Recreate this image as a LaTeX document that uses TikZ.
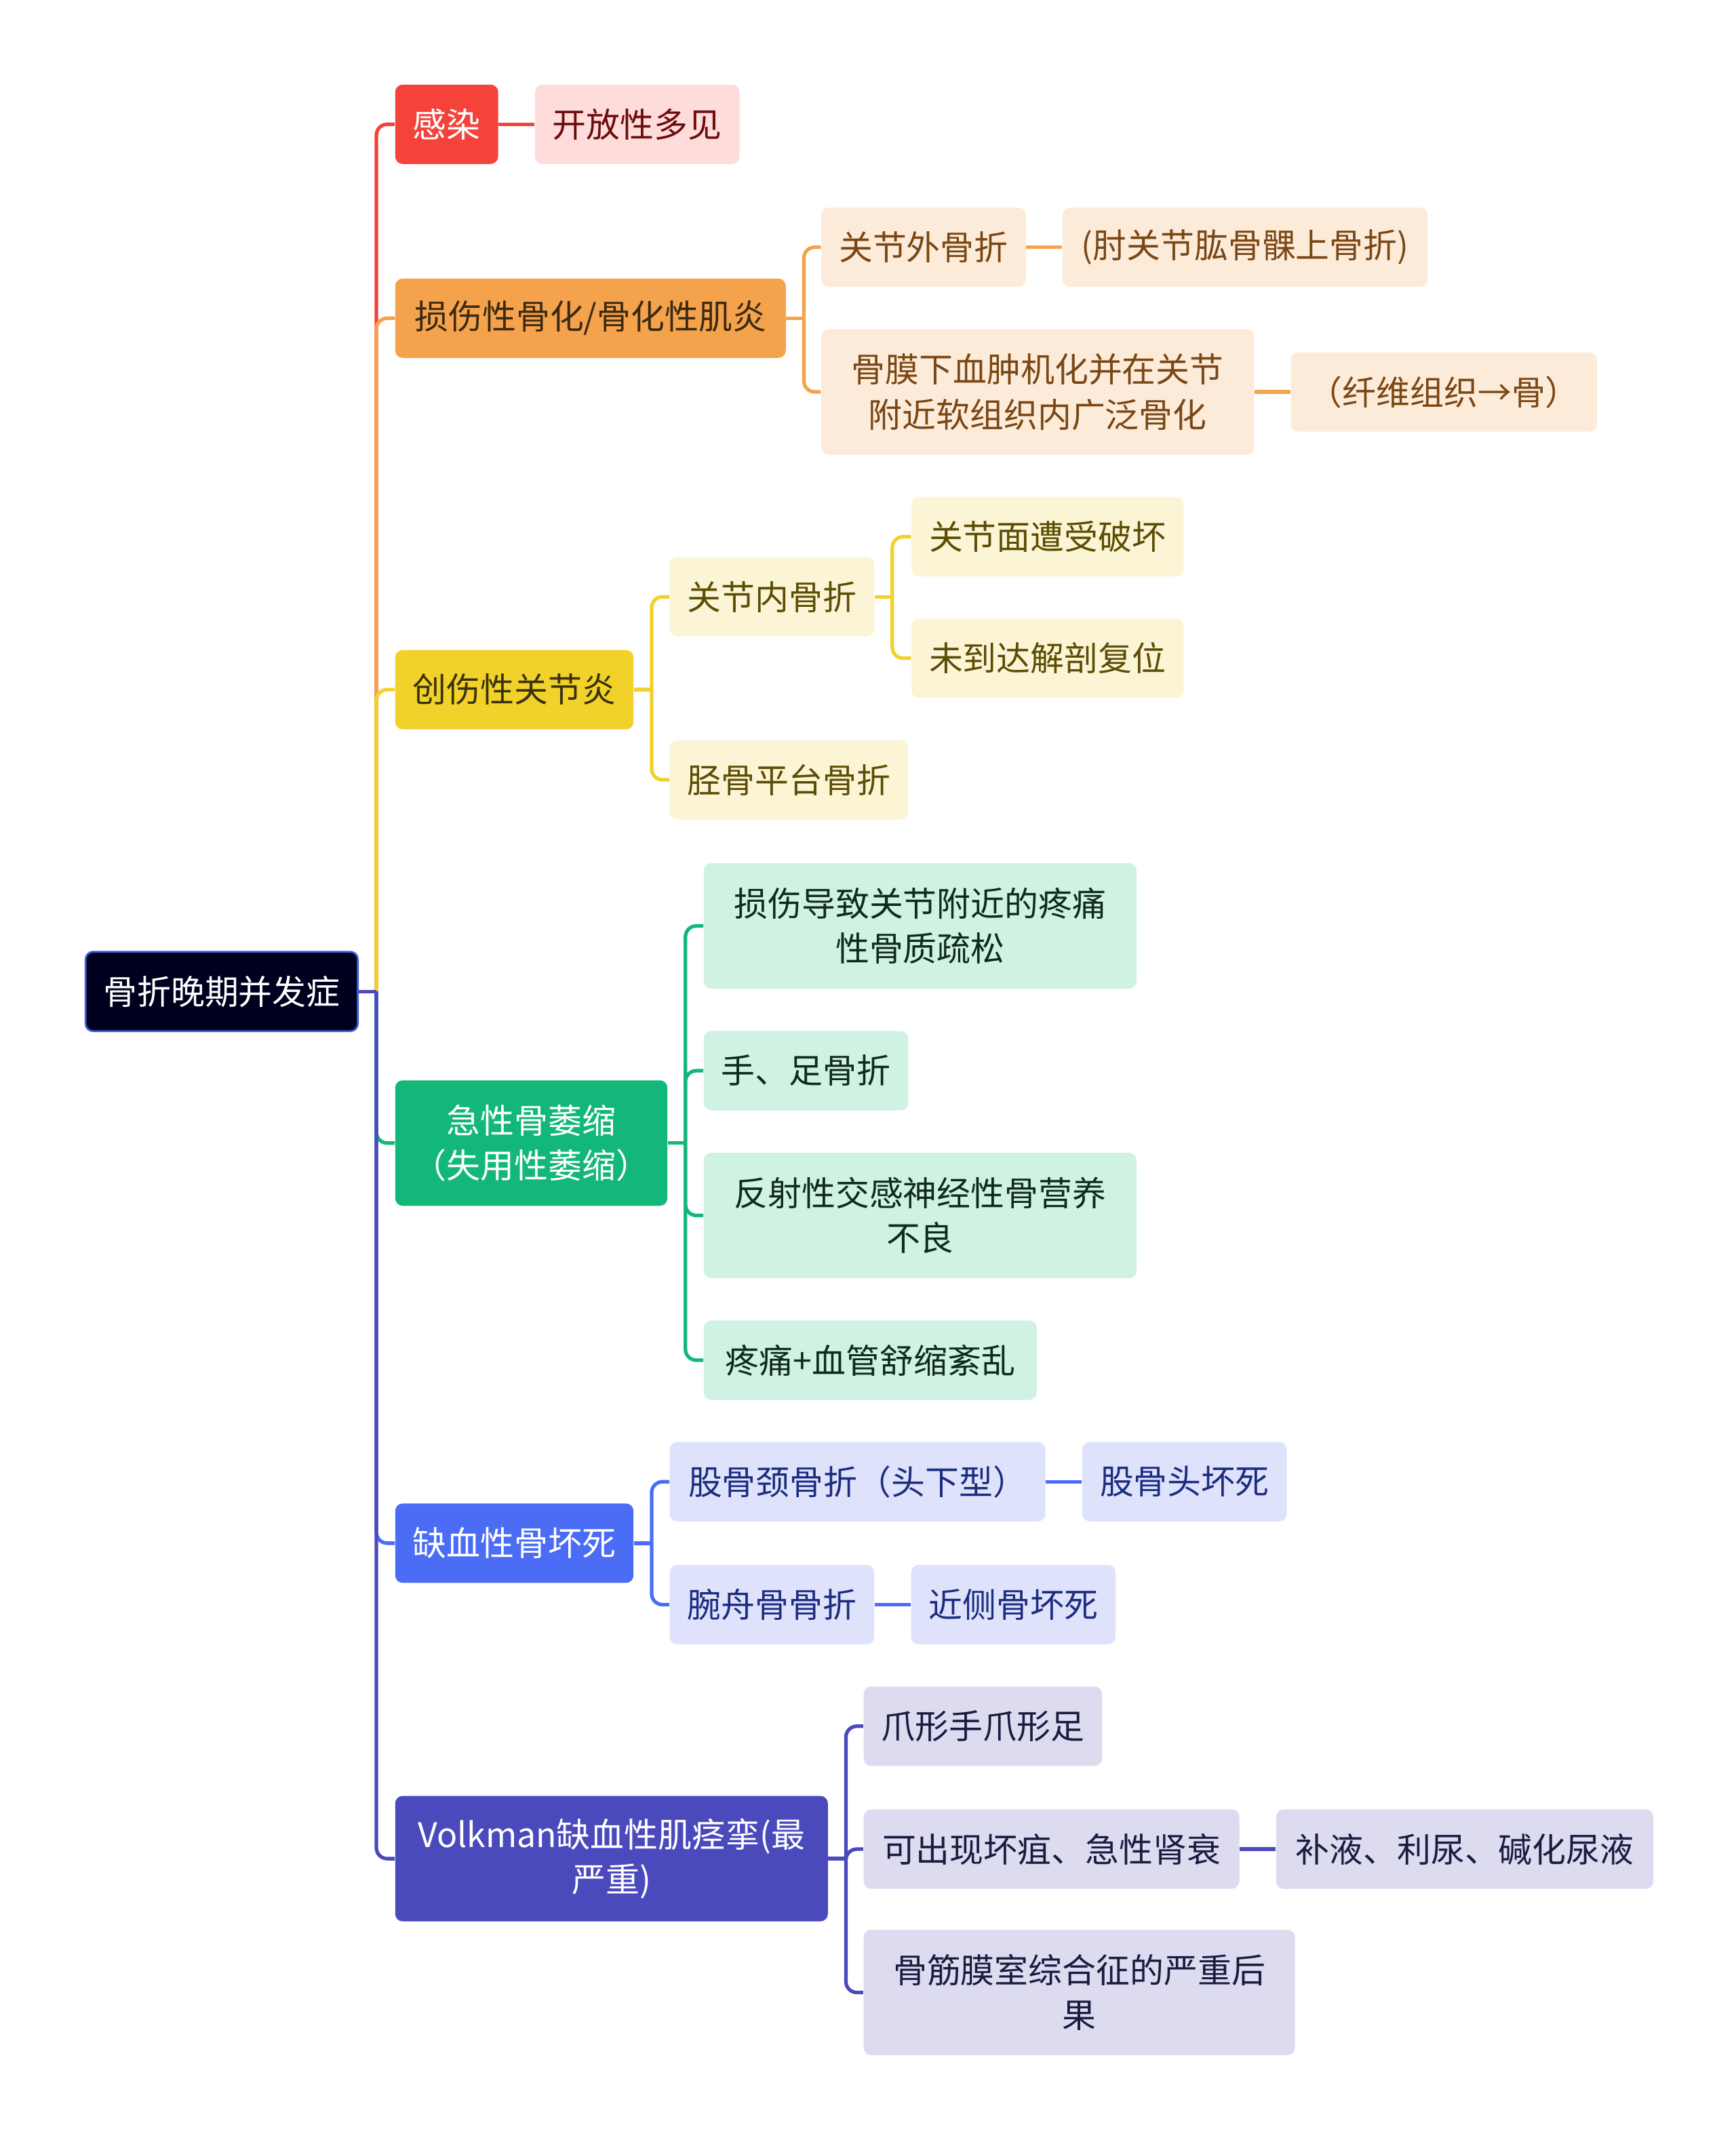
\documentclass[tikz,border=0pt]{standalone}
\usepackage{fontspec}
\setmainfont{Noto Sans CJK SC}
\usepackage{xcolor}
\usetikzlibrary{positioning}

\definecolor{rootfill}{HTML}{00001E}
\definecolor{rootedge}{HTML}{3B5BDB}
\definecolor{redmain}{HTML}{F5423B}
\definecolor{redsoft}{HTML}{FDDCDB}
\definecolor{redink}{HTML}{6E0B0B}
\definecolor{orgmain}{HTML}{F4A24C}
\definecolor{orgsoft}{HTML}{FDEBDA}
\definecolor{orgink}{HTML}{7A4714}
\definecolor{orgdark}{HTML}{3B2A12}
\definecolor{ylwmain}{HTML}{F2D12B}
\definecolor{ylwsoft}{HTML}{FCF5D5}
\definecolor{ylwink}{HTML}{5C4D05}
\definecolor{ylwdark}{HTML}{3A3208}
\definecolor{grnmain}{HTML}{13B77A}
\definecolor{grnsoft}{HTML}{CFF2E3}
\definecolor{grnink}{HTML}{0F2A1F}
\definecolor{blumain}{HTML}{4B6CF5}
\definecolor{blusoft}{HTML}{DEE3FB}
\definecolor{bluink}{HTML}{1C2C80}
\definecolor{prpmain}{HTML}{4B4ABD}
\definecolor{prpsoft}{HTML}{DCDBF0}
\definecolor{prpink}{HTML}{1B1B40}

\begin{document}
\begin{tikzpicture}[x=0.2014mm, y=-0.2014mm, node distance=5.3mm]
    \tikzset{
        box/.style={rectangle, rounded corners=1.1mm, minimum height=11.7mm, inner xsep=2.6mm, inner ysep=1mm, align=center, anchor=west, font=\fontsize{14.2pt}{18.9pt}\selectfont},
        tall/.style={minimum height=18.5mm},
        topic/.style={box, fill=#1main, text=white},
        leaf/.style={box, fill=#1soft, text=#1ink},
        link/.style={draw=#1main, line width=1.5pt, rounded corners=1.6mm}
    }
    \fill[white] (0,0) rectangle (1271,1568.5);

    \node (Root) [box, fill=rootfill, draw=rootedge, line width=0.8pt, text=white] at (62,726) {骨折晚期并发症};

    \node (Infect) [topic=red] at (289,91) {感染};
    \node (OpenCommon) [leaf=red, right=of Infect] {开放性多见};

    \node (Injury) [topic=org, text=orgdark, minimum width=57.6mm] at (289,233) {损伤性骨化/骨化性肌炎};
    \node (ExtFrac) [leaf=org] at (601,181) {关节外骨折};
    \node (ElbowFrac) [leaf=org, right=of ExtFrac, minimum width=53.8mm] {(肘关节肱骨髁上骨折)};
    \node (Periost) [leaf=org, tall, minimum width=63.8mm] at (601,287) {骨膜下血肿机化并在关节\\附近软组织内广泛骨化};
    \node (FibreBone) [leaf=org, right=of Periost] {（纤维组织→骨）};

    \node (Trauma) [topic=ylw, text=ylwdark] at (289,505) {创伤性关节炎};
    \node (IntraFrac) [leaf=ylw] at (490,437) {关节内骨折};
    \node (JointSurf) [leaf=ylw] at (667,393) {关节面遭受破坏};
    \node (NoReduct) [leaf=ylw] at (667,482) {未到达解剖复位};
    \node (Tibial) [leaf=ylw] at (490,571) {胫骨平台骨折};

    \node (Atrophy) [topic=grn, tall] at (289,837) {急性骨萎缩\\（失用性萎缩）};
    \node (Osteopor) [leaf=grn, tall, minimum width=63.8mm] at (515,678) {损伤导致关节附近的疼痛\\性骨质疏松};
    \node (HandFoot) [leaf=grn] at (515,784) {手、足骨折};
    \node (Reflex) [leaf=grn, tall, minimum width=63.8mm] at (515,890) {反射性交感神经性骨营养\\不良};
    \node (PainVaso) [leaf=grn, minimum width=49.1mm] at (515,996) {疼痛+血管舒缩紊乱};

    \node (Ischemic) [topic=blu] at (289,1130) {缺血性骨坏死};
    \node (NeckFrac) [leaf=blu, minimum width=55.4mm] at (490,1085) {股骨颈骨折（头下型）};
    \node (HeadNecro) [leaf=blu, right=of NeckFrac] {股骨头坏死};
    \node (Scaphoid) [leaf=blu] at (490,1175) {腕舟骨骨折};
    \node (ProxNecro) [leaf=blu, right=of Scaphoid] {近侧骨坏死};

    \node (Volkman) [topic=prp, tall, minimum width=63.8mm] at (289,1361) {Volkman缺血性肌痉挛(最\\严重)};
    \node (Claw) [leaf=prp] at (632,1264) {爪形手爪形足};
    \node (Gangrene) [leaf=prp, minimum width=55.4mm] at (632,1354) {可出现坏疽、急性肾衰};
    \node (Fluids) [leaf=prp, right=of Gangrene, minimum width=55.6mm] {补液、利尿、碱化尿液};
    \node (Compart) [leaf=prp, tall, minimum width=63.6mm] at (632,1459) {骨筋膜室综合征的严重后\\果};

    % bus points
    \coordinate (RootBus) at ([xshift=2.6mm]Root.east);
    \coordinate (InjuryBus) at ([xshift=2.6mm]Injury.east);
    \coordinate (TraumaBus) at ([xshift=2.6mm]Trauma.east);
    \coordinate (IntraBus) at ([xshift=2.6mm]IntraFrac.east);
    \coordinate (AtrophyBus) at ([xshift=2.6mm]Atrophy.east);
    \coordinate (IschBus) at ([xshift=2.6mm]Ischemic.east);
    \coordinate (VolkBus) at ([xshift=2.6mm]Volkman.east);

    % root to topics
    \path [link=red] (RootBus) |- (Infect.west);
    \path [link=org] (RootBus) |- (Injury.west);
    \path [link=ylw] (RootBus) |- (Trauma.west);
    \path [link=grn] (RootBus) |- (Atrophy.west);
    \path [link=blu] (RootBus) |- (Ischemic.west);
    \path [link=prp] (RootBus) |- (Volkman.west);
    \path [link=prp] (Root.east) -- (RootBus);

    \path [link=red] (Infect) -- (OpenCommon);

    \path [link=org] (Injury.east) -- (InjuryBus);
    \path [link=org] (InjuryBus) |- (ExtFrac.west);
    \path [link=org] (InjuryBus) |- (Periost.west);
    \path [link=org] (ExtFrac) -- (ElbowFrac);
    \path [link=org] (Periost) -- (FibreBone);

    \path [link=ylw] (Trauma.east) -- (TraumaBus);
    \path [link=ylw] (TraumaBus) |- (IntraFrac.west);
    \path [link=ylw] (TraumaBus) |- (Tibial.west);
    \path [link=ylw] (IntraFrac.east) -- (IntraBus);
    \path [link=ylw] (IntraBus) |- (JointSurf.west);
    \path [link=ylw] (IntraBus) |- (NoReduct.west);

    \path [link=grn] (Atrophy.east) -- (AtrophyBus);
    \path [link=grn] (AtrophyBus) |- (Osteopor.west);
    \path [link=grn] (AtrophyBus) |- (HandFoot.west);
    \path [link=grn] (AtrophyBus) |- (Reflex.west);
    \path [link=grn] (AtrophyBus) |- (PainVaso.west);

    \path [link=blu] (Ischemic.east) -- (IschBus);
    \path [link=blu] (IschBus) |- (NeckFrac.west);
    \path [link=blu] (IschBus) |- (Scaphoid.west);
    \path [link=blu] (NeckFrac) -- (HeadNecro);
    \path [link=blu] (Scaphoid) -- (ProxNecro);

    \path [link=prp] (Volkman.east) -- (VolkBus);
    \path [link=prp] (VolkBus) |- (Claw.west);
    \path [link=prp] (VolkBus) |- (Gangrene.west);
    \path [link=prp] (VolkBus) |- (Compart.west);
    \path [link=prp] (Gangrene) -- (Fluids);

\end{tikzpicture}
\end{document}
